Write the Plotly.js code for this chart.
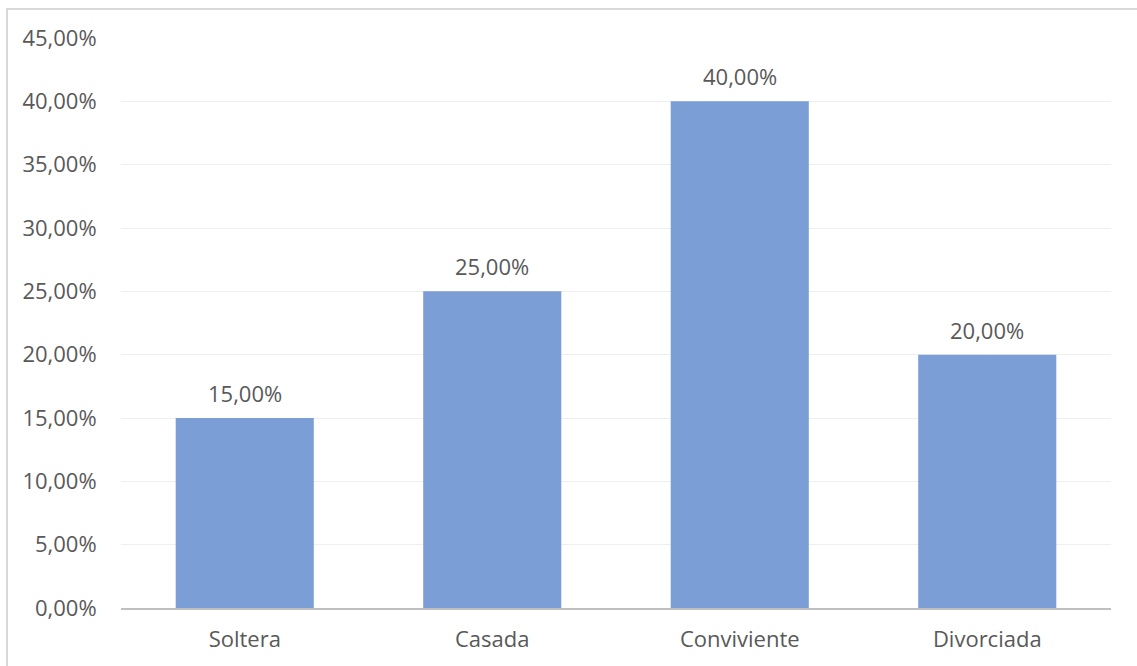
<!DOCTYPE html>
<html>
<head>
<meta charset="utf-8">
<script src="https://cdn.plot.ly/plotly-3.0.1.min.js"></script>
<style>
  html, body { margin: 0; padding: 0; background: #ffffff; overflow: hidden; }
  #frame { position: absolute; left: 6px; top: 8px; width: 1300px; height: 800px; border: 2px solid #d9d9d9; box-sizing: border-box; }
  #chart { position: absolute; left: 0; top: 0; width: 1137px; height: 666px; }
</style>
</head>
<body>
<div id="frame"></div>
<div id="chart"></div>
<script>
const categories = ['Soltera', 'Casada', 'Conviviente', 'Divorciada'];
const values = [0.15, 0.25, 0.40, 0.20];
const valueLabels = ['15,00%', '25,00%', '40,00%', '20,00%'];

const textColor = '#595959';
const fontFamily = '"Open Sans", "Noto Sans", sans-serif';
const fontSize = 22;

const trace = {
  type: 'bar',
  x: categories,
  y: values,
  marker: { color: '#7c9ed6' },
  hoverinfo: 'none'
};

const annotations = categories.map((c, i) => ({
  x: c,
  y: values[i],
  xref: 'x',
  yref: 'y',
  text: valueLabels[i],
  showarrow: false,
  yanchor: 'bottom',
  yshift: 8,
  font: { family: fontFamily, size: fontSize, color: textColor }
}));

const layout = {
  width: 1137,
  height: 666,
  margin: { l: 121, r: 26, t: 38, b: 58, pad: 0 },
  paper_bgcolor: 'rgba(0,0,0,0)',
  plot_bgcolor: 'rgba(0,0,0,0)',
  separators: ',.',
  bargap: 0.442,
  showlegend: false,
  font: { family: fontFamily, size: fontSize, color: textColor },
  xaxis: {
    type: 'category',
    showgrid: false,
    showline: true,
    linecolor: '#bfbfbf',
    linewidth: 2,
    ticks: 'outside',
    ticklen: 11,
    tickcolor: 'rgba(0,0,0,0)',
    tickfont: { family: fontFamily, size: fontSize, color: textColor },
    fixedrange: true
  },
  yaxis: {
    range: [0, 0.45],
    dtick: 0.05,
    tick0: 0,
    tickformat: '.2%',
    showgrid: true,
    gridcolor: '#efefef',
    gridwidth: 1,
    zeroline: false,
    showline: false,
    ticks: 'outside',
    ticklen: 19,
    tickcolor: 'rgba(0,0,0,0)',
    tickfont: { family: fontFamily, size: fontSize, color: textColor },
    fixedrange: true
  },
  annotations: annotations
};

Plotly.newPlot('chart', [trace], layout, { displayModeBar: false, staticPlot: true });
</script>
</body>
</html>
